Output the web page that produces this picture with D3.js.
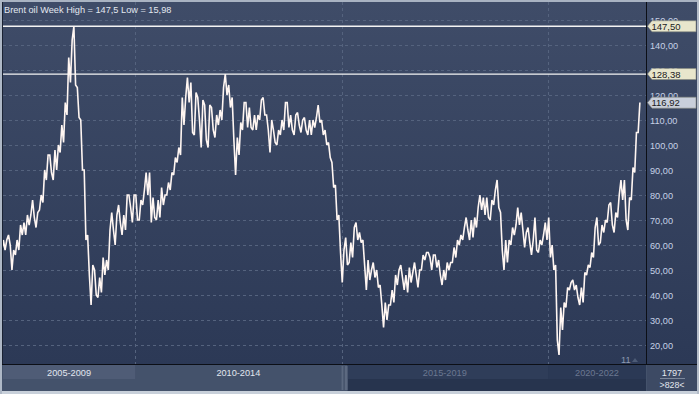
<!DOCTYPE html>
<html><head><meta charset="utf-8">
<script src="https://cdn.jsdelivr.net/npm/d3@7"></script>
<style>
html,body{margin:0;padding:0;background:#c3cad5;overflow:hidden}
svg{display:block}
text{font-family:"Liberation Sans",Arial,sans-serif}
</style>
</head><body>
<svg id="c" width="699" height="394"></svg>
<script>
// ---------- DATA ----------
const title = "Brent oil Week High = 147,5 Low = 15,98";
const startYear = 2006, startMonth = 10; // first month in the series (Oct 2006)
// monthly lows / highs (Oct 2006 .. Mar 2022)
const lows = [
  57, 58, 60,
  50, 56, 58, 64, 64, 68, 71, 67, 74, 77, 86, 89,
  86, 90, 97, 101, 112, 125, 124, 111, 90, 62, 48, 36,
  40, 39, 41, 48, 50, 66, 60, 69, 64, 66, 75, 69,
  70, 70, 76, 80, 69, 71, 70, 71, 76, 80, 82, 88,
  93, 96, 108, 117, 105, 104, 110, 99, 102, 99, 106, 103,
  108, 110, 120, 115, 102, 88, 96, 106, 107, 107, 106, 106,
  110, 112, 106, 97, 101, 100, 104, 106, 107, 106, 104, 108,
  105, 106, 104, 104, 107, 109, 104, 100, 95, 83, 70, 57,
  45, 52, 53, 55, 62, 61, 52, 42, 46, 47, 43, 36,
  27, 30, 36, 37, 44, 47, 42, 41, 45, 48, 43, 50,
  54, 55, 50, 51, 48, 44, 46, 50, 53, 55, 60, 62,
  66, 62, 63, 67, 74, 72, 71, 70, 76, 75, 58, 50,
  53, 60, 64, 68, 66, 59, 61, 56, 58, 57, 60, 62,
  55, 50, 22, 16, 26, 35, 42, 42, 39, 36, 37, 48,
  51, 55, 60, 61, 65, 69, 68, 65, 71, 78, 70, 66,
  78, 89, 105
];
const highs = [
  62, 62, 64,
  58, 62, 68, 69, 72, 72, 78, 73, 80, 90, 96, 96,
  98, 100, 108, 117, 135, 142, 147.5, 123, 110, 90, 64, 52,
  50, 47, 55, 54, 66, 73, 72, 76, 72, 80, 80, 80,
  80, 78, 82, 89, 89, 79, 78, 83, 80, 85, 89, 95,
  99, 119, 119, 127, 125, 121, 119, 118, 116, 116, 115, 112,
  114, 123, 128.4, 124, 119, 103, 109, 117, 117, 115, 112, 112,
  118, 119, 112, 110, 106, 106, 110, 117, 117, 112, 112, 113,
  110, 111, 110, 110, 111, 116, 110, 106, 101, 93, 84, 72,
  58, 63, 61, 67, 69, 65, 62, 54, 50, 53, 50, 44,
  37, 36, 42, 48, 50, 52, 48, 51, 49, 53, 50, 56,
  57, 57, 56, 56, 54, 50, 53, 53, 59, 62, 64, 67,
  71, 70, 71, 75, 80, 79, 79, 78, 82, 86, 73, 62,
  62, 67, 68, 75, 73, 65, 67, 62, 71, 62, 64, 69,
  71, 60, 52, 35, 37, 43, 45, 46, 44, 43, 49, 52,
  57, 67, 71, 68, 70, 76, 77, 73, 80, 86, 86, 79,
  91, 105, 117
];
const yTicks = [20, 30, 40, 50, 60, 70, 80, 90, 100, 110, 120, 130, 140, 150];
const refLevels = [147.5, 128.38];
const lastValue = 116.92;
const periodLabels = ["2005-2009", "2010-2014", "2015-2019", "2020-2022"];
const periodStarts = [2005, 2010, 2015, 2020];
const barCount = "1797", visibleCount = ">828<", cornerLabel = "11";

// ---------- LAYOUT ----------
const W = 699, H = 394;
const plot = {l: 3, r: 646, t: 2, b: 364};
const svg = d3.select("#c");
const x = d3.scaleLinear().domain([2006.80, 2022.373]).range([plot.l, plot.r]);
const y = d3.scaleLinear().domain([0, 150]).range([395, 20]);
const fmt = v => d3.format(".2f")(v).replace(".", ",");
const FS = 9.2;

const defs = svg.append("defs");
const g1 = defs.append("linearGradient").attr("id", "bg").attr("x1", 0).attr("y1", 0).attr("x2", 0).attr("y2", 1);
g1.append("stop").attr("offset", "0%").attr("stop-color", "#3f4c68");
g1.append("stop").attr("offset", "100%").attr("stop-color", "#2c3956");
defs.append("clipPath").attr("id", "clip").append("rect")
  .attr("x", plot.l).attr("y", plot.t).attr("width", plot.r - plot.l).attr("height", plot.b - plot.t);

// outer frame
svg.append("rect").attr("width", W).attr("height", H).attr("fill", "#c3cad5");
svg.append("rect").attr("x", 0).attr("y", 0).attr("width", W).attr("height", 2).attr("fill", "#a9b3c2");
// plot + axis background
svg.append("rect").attr("x", 2).attr("y", 2).attr("width", 695).attr("height", plot.b - 2).attr("fill", "url(#bg)");

// grid
const grid = svg.append("g").attr("clip-path", "url(#clip)");
grid.selectAll("line.h").data(yTicks).join("line")
  .attr("x1", plot.l).attr("x2", plot.r)
  .attr("y1", d => Math.round(y(d)) + 0.5).attr("y2", d => Math.round(y(d)) + 0.5)
  .attr("stroke", "#55637e").attr("stroke-dasharray", "3,3").attr("stroke-width", 1);
grid.selectAll("line.v").data(periodStarts.filter(d => x(d) > plot.l)).join("line")
  .attr("x1", d => Math.round(x(d)) + 0.5).attr("x2", d => Math.round(x(d)) + 0.5)
  .attr("y1", plot.t).attr("y2", plot.b)
  .attr("stroke", "#55637e").attr("stroke-dasharray", "3,3").attr("stroke-width", 1);

// reference lines
grid.selectAll("line.ref").data(refLevels).join("line")
  .attr("x1", plot.l).attr("x2", plot.r)
  .attr("y1", d => y(d)).attr("y2", d => y(d))
  .attr("stroke", "#f4f4f4").attr("stroke-width", 1.3);

// price series (zig-zag through monthly low/high)
const pts = [];
lows.forEach((lo, i) => {
  const hi = highs[i];
  const t = startYear + (startMonth - 1 + i) / 12;
  const mid = (lo + hi) / 2;
  const nmid = i + 1 < lows.length ? (lows[i + 1] + highs[i + 1]) / 2 : Infinity;
  const pair = nmid >= mid ? [lo, hi] : [hi, lo];
  pts.push([t + 0.2 / 12, pair[0]]);
  pts.push([t + 0.7 / 12, pair[1]]);
});
grid.append("path").datum(pts)
  .attr("fill", "none").attr("stroke", "#fff6f2").attr("stroke-width", 1.6)
  .attr("stroke-linejoin", "miter").attr("stroke-miterlimit", 2)
  .attr("d", d3.line().x(d => x(d[0])).y(d => y(d[1])));

// title
svg.append("text").attr("x", 4).attr("y", 12.5).attr("fill", "#e3e8f0")
  .attr("font-size", FS).text(title);

// corner "11"
svg.append("text").attr("x", 621).attr("y", 362.5).attr("fill", "#8d9ab2")
  .attr("font-size", FS).text(cornerLabel);
svg.append("path").attr("d", `M632,362 L635,358 L638,362 Z`).attr("fill", "#4d5b76");

// separators
svg.append("line").attr("x1", plot.r + 0.5).attr("x2", plot.r + 0.5).attr("y1", 2).attr("y2", 391)
  .attr("stroke", "#0c0f16").attr("stroke-width", 1);
svg.append("line").attr("x1", 2.5).attr("x2", 2.5).attr("y1", 2).attr("y2", 391)
  .attr("stroke", "#1a2233").attr("stroke-width", 1);

// y axis labels
svg.append("g").selectAll("text").data(yTicks).join("text")
  .attr("x", 650).attr("y", d => y(d) + 3.5)
  .attr("fill", "#c6d1e6").attr("font-size", FS).text(d => fmt(d));

// badges
const badges = refLevels.map(v => ({v, fill: "#e8e6cc"})).concat([{v: lastValue, fill: "#c9cfdb"}]);
const bg = svg.append("g").selectAll("g").data(badges).join("g");
bg.append("path")
  .attr("d", d => { const c = y(d.v); return `M647.5,${c} L652,${c - 5.5} L696,${c - 5.5} L696,${c + 5.5} L652,${c + 5.5} Z`; })
  .attr("fill", d => d.fill).attr("stroke", "#8a8c80").attr("stroke-width", 0.6);
bg.append("text").attr("x", 651.5).attr("y", d => y(d.v) + 3.6)
  .attr("fill", "#1b1b1b").attr("font-size", FS + 0.3).text(d => fmt(d.v));

// bottom bar
const bb = svg.append("g");
bb.append("rect").attr("x", 2).attr("y", plot.b).attr("width", 695).attr("height", 27).attr("fill", "#44526b");
const segs = periodStarts.map((s, i) => ({
  label: periodLabels[i],
  x0: Math.max(plot.l, x(s)),
  x1: i + 1 < periodStarts.length ? x(periodStarts[i + 1]) : plot.r,
  active: i < 2
}));
const inactiveX0 = segs[2].x0;
bb.append("rect").attr("x", inactiveX0 + 6).attr("y", plot.b + 1).attr("width", plot.r - inactiveX0 - 6).attr("height", 26).attr("fill", "#27344e");
bb.append("rect").attr("x", inactiveX0 + 6).attr("y", plot.b + 1).attr("width", segs[2].x1 - inactiveX0 - 6).attr("height", 14).attr("fill", "#2f3d59");
bb.append("rect").attr("x", segs[3].x0).attr("y", plot.b + 1).attr("width", plot.r - segs[3].x0).attr("height", 14).attr("fill", "#2b3955");
bb.append("rect").attr("x", inactiveX0).attr("y", plot.b + 2).attr("width", 6).attr("height", 24).attr("fill", "#5c6980");
bb.append("rect").attr("x", inactiveX0 + 2).attr("y", plot.b + 2).attr("width", 1).attr("height", 24).attr("fill", "#3a4760");
bb.append("rect").attr("x", segs[0].x0).attr("y", plot.b + 1).attr("width", segs[0].x1 - segs[0].x0).attr("height", 14).attr("fill", "#4f5c76");
bb.selectAll("text").data(segs).join("text")
  .attr("x", d => (d.x0 + d.x1) / 2).attr("y", plot.b + 11.5)
  .attr("text-anchor", "middle").attr("font-size", FS)
  .attr("fill", d => d.active ? "#e2e7ef" : "#6b7891").text(d => d.label);
bb.append("line").attr("x1", 2).attr("x2", 697).attr("y1", plot.b + 0.5).attr("y2", plot.b + 0.5).attr("stroke", "#0c0f16");
// count box
bb.append("rect").attr("x", 647).attr("y", plot.b + 1).attr("width", 50).attr("height", 26).attr("fill", "#3d4a64");
bb.append("text").attr("x", 672).attr("y", plot.b + 11.5).attr("text-anchor", "middle").attr("font-size", FS).attr("fill", "#e2e7ef").text(barCount);
bb.append("line").attr("x1", 660).attr("x2", 685).attr("y1", plot.b + 14.5).attr("y2", plot.b + 14.5).attr("stroke", "#7d889c");
bb.append("text").attr("x", 672).attr("y", plot.b + 23.5).attr("text-anchor", "middle").attr("font-size", FS - 0.4).attr("fill", "#e2e7ef").text(visibleCount);
// frame
svg.append("rect").attr("x", 0).attr("y", 391).attr("width", W).attr("height", 3).attr("fill", "#c8d0da");
svg.append("rect").attr("x", 697).attr("y", 0).attr("width", 2).attr("height", H).attr("fill", "#b5bdc9");
svg.append("rect").attr("x", 0).attr("y", 0).attr("width", 2).attr("height", H).attr("fill", "#aeb8c6");
</script>
</body></html>
